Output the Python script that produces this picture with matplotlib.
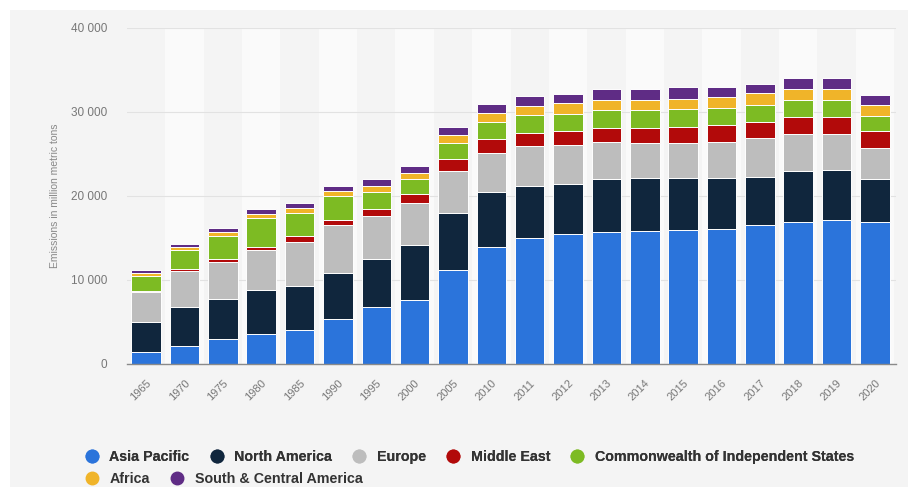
import matplotlib
matplotlib.use("Agg")
import matplotlib.pyplot as plt
from matplotlib.patches import Rectangle
from matplotlib.lines import Line2D
from matplotlib.ticker import FuncFormatter
import numpy as np

plt.rcParams.update({
    'font.family': 'sans-serif',
    'font.sans-serif': ['Liberation Sans', 'DejaVu Sans'],
})

years = ["1965", "1970", "1975", "1980", "1985", "1990", "1995", "2000", "2005",
         "2010", "2011", "2012", "2013", "2014", "2015", "2016", "2017", "2018",
         "2019", "2020"]

asia_pacific = [1450, 2180, 2940, 3530, 4050, 5320, 6750, 7620, 11200, 13890,
                14960, 15440, 15750, 15870, 15950, 16070, 16550, 16870, 17140, 16870]
north_america = [3600, 4570, 4760, 5280, 5240, 5550, 5750, 6550, 6740, 6550,
                 6230, 5950, 6240, 6240, 6160, 6040, 5750, 6110, 5960, 5120]
europe = [3500, 4360, 4480, 4760, 5270, 5680, 5120, 4960, 5080, 4640,
          4760, 4680, 4400, 4160, 4240, 4280, 4570, 4360, 4240, 3690]
middle_east = [200, 160, 300, 400, 720, 590, 830, 1070, 1350, 1710,
               1590, 1670, 1740, 1860, 1900, 2060, 1900, 2030, 2030, 2060]
cis = [1750, 2300, 2760, 3370, 2660, 2900, 2070, 1780, 1900, 2020,
       2100, 2020, 2110, 2110, 2070, 2070, 2060, 2060, 2060, 1820]
africa = [300, 300, 430, 500, 600, 550, 700, 800, 990, 1030,
          1110, 1270, 1190, 1190, 1230, 1230, 1400, 1310, 1310, 1270]
south_central_america = [400, 380, 560, 610, 660, 600, 760, 830, 910, 1110,
                         1150, 1110, 1310, 1310, 1390, 1270, 1100, 1350, 1350, 1190]

series = [
    ("Asia Pacific", asia_pacific, "#2b74db"),
    ("North America", north_america, "#10263d"),
    ("Europe", europe, "#bdbdbd"),
    ("Middle East", middle_east, "#b20a0a"),
    ("Commonwealth of Independent States", cis, "#7dbb23"),
    ("Africa", africa, "#f0b429"),
    ("South & Central America", south_central_america, "#5f2c85"),
]

W, H = 915, 487
fig = plt.figure(figsize=(W / 100, H / 100), dpi=100, facecolor="white")

# grey panel behind the chart
fig.patches.append(Rectangle((10 / W, 0), 898 / W, 1 - 10 / H,
                             transform=fig.transFigure, facecolor="#f4f4f4",
                             edgecolor="none", zorder=-10))

ax = fig.add_axes([127 / W, 1 - 364 / H, (896 - 127) / W, (364 - 28) / H])
ax.set_facecolor("none")

x = np.arange(len(years))

# alternating column bands
for i in x:
    if i % 2 == 1:
        ax.axvspan(i - 0.5, i + 0.5, color="#fafafa", zorder=0, lw=0)

bottom = np.zeros(len(years))
handles = []
for name, vals, color in series:
    ax.bar(x, vals, width=0.77, bottom=bottom, color=color,
           edgecolor="white", linewidth=0.7, zorder=3)
    bottom += np.array(vals)
    handles.append(Line2D([], [], marker="o", linestyle="", markersize=9,
                          markerfacecolor=color, markeredgecolor=color, label=name))

ax.set_xlim(-0.5, 19.55)
ax.set_ylim(0, 40000)
ax.set_yticks([0, 10000, 20000, 30000, 40000])
ax.yaxis.set_major_formatter(FuncFormatter(lambda v, p: f"{int(v):,}".replace(",", " ")))
ax.grid(axis="y", color="#e2e2e2", linewidth=0.8, zorder=1)
ax.set_axisbelow(True)

for s in ["top", "right", "left"]:
    ax.spines[s].set_visible(False)
ax.spines["bottom"].set_color("#8a8a8a")
ax.spines["bottom"].set_linewidth(1.0)
ax.spines["bottom"].set_zorder(4)

ax.set_xticks(x)
ax.set_xticklabels(years, rotation=45, ha="right", rotation_mode="anchor")
ax.tick_params(axis="x", length=0, pad=10, labelsize=8, labelcolor="#777777")
ax.tick_params(axis="y", length=0, pad=14, labelsize=8.5, labelcolor="#777777")

ax.set_ylabel("Emissions in million metric tons", color="#888888", fontsize=7.5,
              labelpad=8)

# legend: two rows
legend_kw = dict(loc="center left", frameon=False,
                 prop={"size": 10.3, "weight": "bold"}, handletextpad=0.82,
                 columnspacing=1.48, handlelength=0.82, borderaxespad=0,
                 borderpad=0)
leg1 = fig.legend(handles=handles[:5], ncol=5,
                  bbox_to_anchor=(86 / W, 1 - 457 / H), **legend_kw)
leg2 = fig.legend(handles=handles[5:], ncol=2,
                  bbox_to_anchor=(86 / W, 1 - 479 / H), **legend_kw)
for leg in (leg1, leg2):
    for t in leg.get_texts():
        t.set_color("#333333")
fig.add_artist(leg1)

fig.savefig("out.png", dpi=100, facecolor=fig.get_facecolor())
